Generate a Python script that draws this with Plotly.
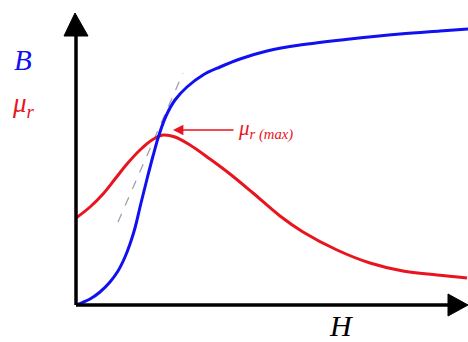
import plotly.graph_objects as go

# Magnetization curve B(H) and relative permeability mu_r(H), arbitrary units
H_B = [0, 14, 24, 34, 42, 49, 54, 59, 65, 71, 77, 83, 90, 99, 111, 127, 144, 164, 191, 224, 274, 324, 364, 392]
B = [0, 6, 13, 23, 34, 48, 61, 77, 102, 126, 149, 170, 189, 205, 218, 230, 238, 246, 254, 260, 266, 271, 274, 276]

H_mu = [0, 14, 27, 39, 51, 64, 76, 87, 99, 114, 134, 154, 177, 204, 227, 261, 294, 327, 361, 391]
MU = [87, 98, 111, 126, 141, 155, 165, 170, 168, 160, 146, 131, 112, 89, 73, 55, 42, 34, 30, 27]

# Tangent at the steepest part of B(H)
H_TAN = [42, 107]
B_TAN = [83, 232]

# Point of maximum permeability
H_PEAK, MU_PEAK = 84, 170

BLUE = "#1010f0"
RED = "#e8141e"
SERIF = "Liberation Serif, Times New Roman, serif"

fig = go.Figure()
fig.add_trace(go.Scatter(x=H_TAN, y=B_TAN, mode="lines",
                         line=dict(color="#9a9ab0", width=1.2, dash="dash"),
                         hoverinfo="skip"))
fig.add_trace(go.Scatter(x=H_mu, y=MU, mode="lines",
                         line=dict(color=RED, width=3, shape="spline", smoothing=1.0)))
fig.add_trace(go.Scatter(x=H_B, y=B, mode="lines",
                         line=dict(color=BLUE, width=3, shape="spline", smoothing=1.0)))

# Axes with arrowheads
fig.add_shape(type="line", x0=0, y0=0, x1=0, y1=270, line=dict(color="black", width=3.5))
fig.add_shape(type="line", x0=0, y0=0, x1=375, y1=0, line=dict(color="black", width=3.5))
fig.add_shape(type="path", path="M -12,269 L 12,269 L -1,292 Z",
              fillcolor="black", line=dict(color="black", width=1))
fig.add_shape(type="path", path="M 372,-11 L 372,11 L 392,0 Z",
              fillcolor="black", line=dict(color="black", width=1))

# Arrow pointing at the permeability peak
fig.add_annotation(x=H_PEAK + 13, y=MU_PEAK + 5, ax=H_PEAK + 75, ay=MU_PEAK + 5,
                   axref="x", ayref="y", text="", showarrow=True,
                   arrowhead=2, arrowsize=1.3, arrowwidth=1.6, arrowcolor=RED)
fig.add_annotation(x=H_PEAK + 76, y=MU_PEAK + 6, xanchor="left", yanchor="middle",
                   text="<i>μ<sub>r (max)</sub></i>", showarrow=False,
                   font=dict(family=SERIF, size=21, color=RED))

# Axis labels
fig.add_annotation(x=-53, y=245, text="<i>B</i>", showarrow=False,
                   font=dict(family=SERIF, size=29, color=BLUE))
fig.add_annotation(x=-53, y=200, text="<i>μ<sub>r</sub></i>", showarrow=False,
                   font=dict(family=SERIF, size=27, color=RED))
fig.add_annotation(x=265, y=-20, text="<i>H</i>", showarrow=False,
                   font=dict(family=SERIF, size=30, color="black"))

fig.update_layout(
    width=468, height=342, autosize=False,
    margin=dict(l=0, r=0, t=0, b=0),
    paper_bgcolor="white", plot_bgcolor="white",
    showlegend=False,
    xaxis=dict(range=[-76, 392], visible=False, fixedrange=True),
    yaxis=dict(range=[-37, 305], visible=False, fixedrange=True),
)

fig.write_html("out.html")
